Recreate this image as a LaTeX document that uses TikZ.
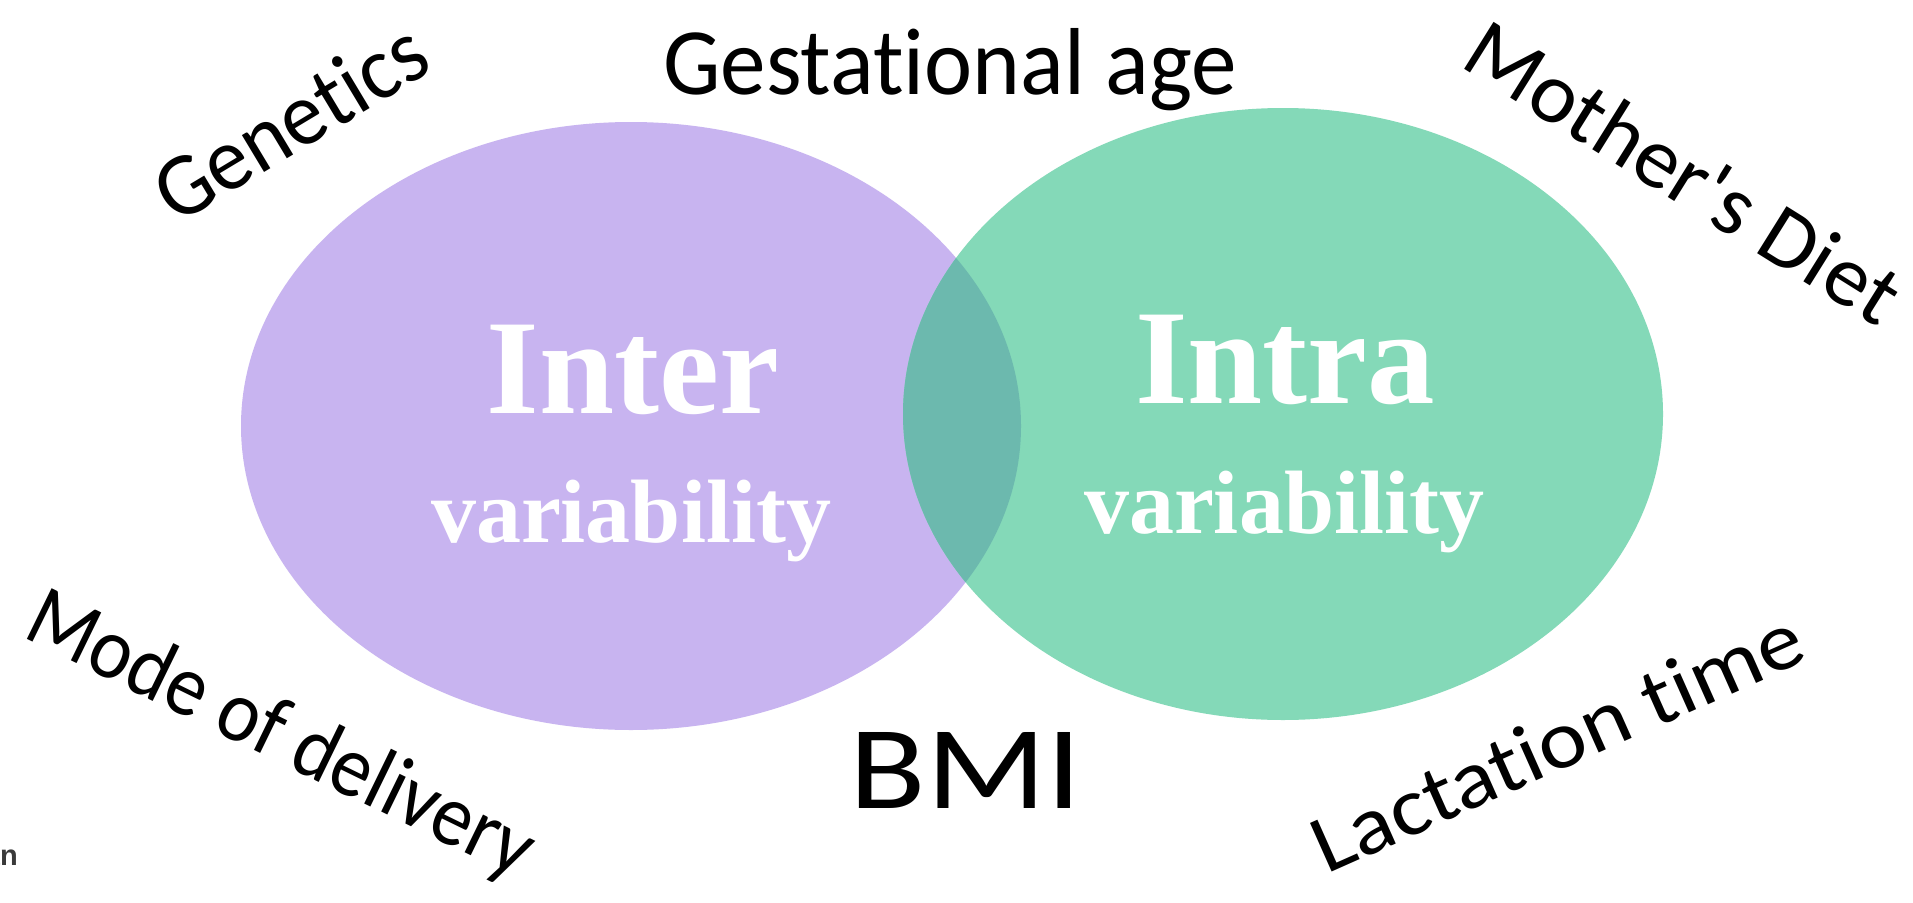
\documentclass[tikz,border=0pt]{standalone}
\usepackage{fontspec}
\usepackage{graphicx}
\setmainfont{Liberation Serif}
\newfontfamily\handfont[Ligatures=NoCommon,RawFeature=-liga]{Carlito}
\newfontfamily\creditfont{Liberation Sans}
\usetikzlibrary{shapes.geometric}
\definecolor{purp}{HTML}{C8B4F0}
\definecolor{mint}{HTML}{84D9B8}
\definecolor{lens}{HTML}{6CB9AE}
\definecolor{credit}{HTML}{3A3A3A}
\newcommand{\hw}[3]{\resizebox{#1pt}{#2pt}{\handfont #3}}
\begin{document}
\begin{tikzpicture}[x=1pt,y=-1pt,
  blob/.style={ellipse, draw=none, inner sep=0pt, outer sep=0pt},
  bigword/.style={text=white, inner sep=0pt, anchor=base, font=\bfseries\fontsize{135}{135}\selectfont},
  subword/.style={text=white, inner sep=0pt, anchor=base, font=\bfseries\fontsize{90}{90}\selectfont},
  hand/.style={inner sep=0pt, text=black}]
\useasboundingbox[fill=white] (0,0) rectangle (1913,902);
% sets
\node[blob, fill=purp, minimum width=780pt, minimum height=608pt] (inter) at (631,426) {};
\node[blob, fill=mint, minimum width=760pt, minimum height=612pt] (intra) at (1283,414) {};
\begin{scope}
  \clip (631,426) ellipse [x radius=390pt, y radius=304pt];
  \fill[lens] (1283,414) ellipse [x radius=380pt, y radius=306pt];
\end{scope}
% set labels
\node[bigword] (intert) at (633,413) {Inter};
\node[subword] (interv) at (631,542) {variability};
\node[bigword] (intrat) at (1285,403) {Intra};
\node[subword] (intrav) at (1284,533) {variability};
% factors
\node[hand, rotate=31] (gen) at (290,121) {\hw{302}{62}{Genetics}};
\node[hand, anchor=base] (gest) at (950,94) {\hw{573}{66}{Gestational age}};
\node[hand, rotate=-32] (diet) at (1684,172) {\hw{495}{60}{Mother's Diet}};
\node[hand, rotate=-26] (mode) at (280,737) {\hw{552}{61}{Mode of delivery}};
\node[hand, anchor=base] (bmi) at (966,808) {\hw{232}{76}{BMI}};
\node[hand, rotate=24] (lact) at (1557,741) {\hw{530}{57}{Lactation time}};
% cropped credit text
\node[inner sep=0pt, anchor=base east, text=credit, font=\creditfont\bfseries\fontsize{29}{29}\selectfont] (cred) at (18,865) {an};
\end{tikzpicture}
\end{document}
